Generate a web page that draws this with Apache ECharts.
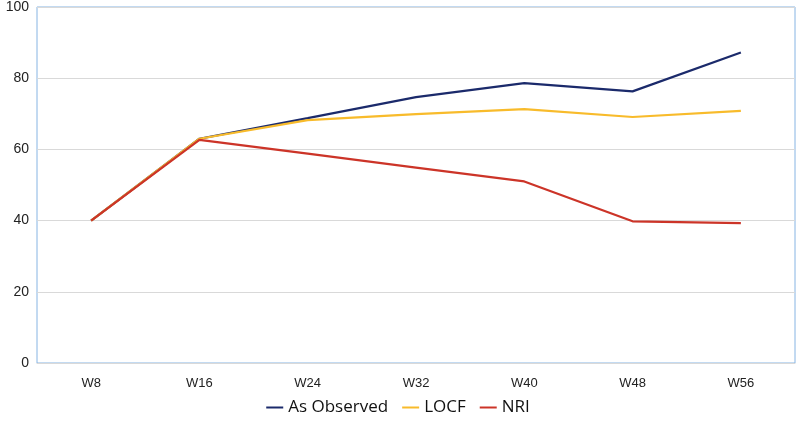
<!DOCTYPE html>
<html><head><meta charset="utf-8">
<script src="https://cdn.jsdelivr.net/npm/echarts@6/dist/echarts.min.js"></script>
<style>html,body{margin:0;padding:0;background:#fff}#c{width:796px;height:421px}</style>
</head><body><div id="c"></div>
<script>
var categories = ['W8','W16','W24','W32','W40','W48','W56'];
var asObserved = [40, 63.0, 68.8, 74.7, 78.6, 76.3, 87.2];
var locf = [40, 63.0, 68.2, 69.9, 71.3, 69.1, 70.8];
var nri = [40, 62.7, 58.8, 54.9, 51.0, 39.8, 39.3];
var yTicks = {min: 0, max: 100, interval: 20};

var chart = echarts.init(document.getElementById('c'));
function ser(name, data, color){
  return {name:name, type:'line', data:data, symbol:'none', lineStyle:{color:color, width:2.2}, itemStyle:{color:color}, animation:false};
}
chart.setOption({
  animation:false,
  grid:{left:37, right:1, top:4, bottom:58, show:true, borderColor:'#86b4e3', borderWidth:1, containLabel:false},
  legend:{bottom:0, left:'center', icon:'rect', itemWidth:17, itemHeight:2, itemGap:14,
    textStyle:{fontSize:17, color:'#111', fontFamily:'Open Sans'},
    data:['As Observed','LOCF','NRI']},
  xAxis:{type:'category', data:categories, boundaryGap:true,
    axisLine:{lineStyle:{color:'#d9d9d9', width:1}}, axisTick:{show:false},
    axisLabel:{color:'#222', fontSize:13, margin:14, fontFamily:'Liberation Sans'}},
  yAxis:{type:'value', min:yTicks.min, max:yTicks.max, interval:yTicks.interval,
    axisLine:{show:false}, axisTick:{show:false},
    splitLine:{lineStyle:{color:'#d9d9d9'}},
    axisLabel:{color:'#222', fontSize:14, margin:8, fontFamily:'Liberation Sans'}},
  series:[ser('As Observed', asObserved, '#1b2a6b'), ser('LOCF', locf, '#f8bb2b'), ser('NRI', nri, '#cc3428')]
});
</script></body></html>
